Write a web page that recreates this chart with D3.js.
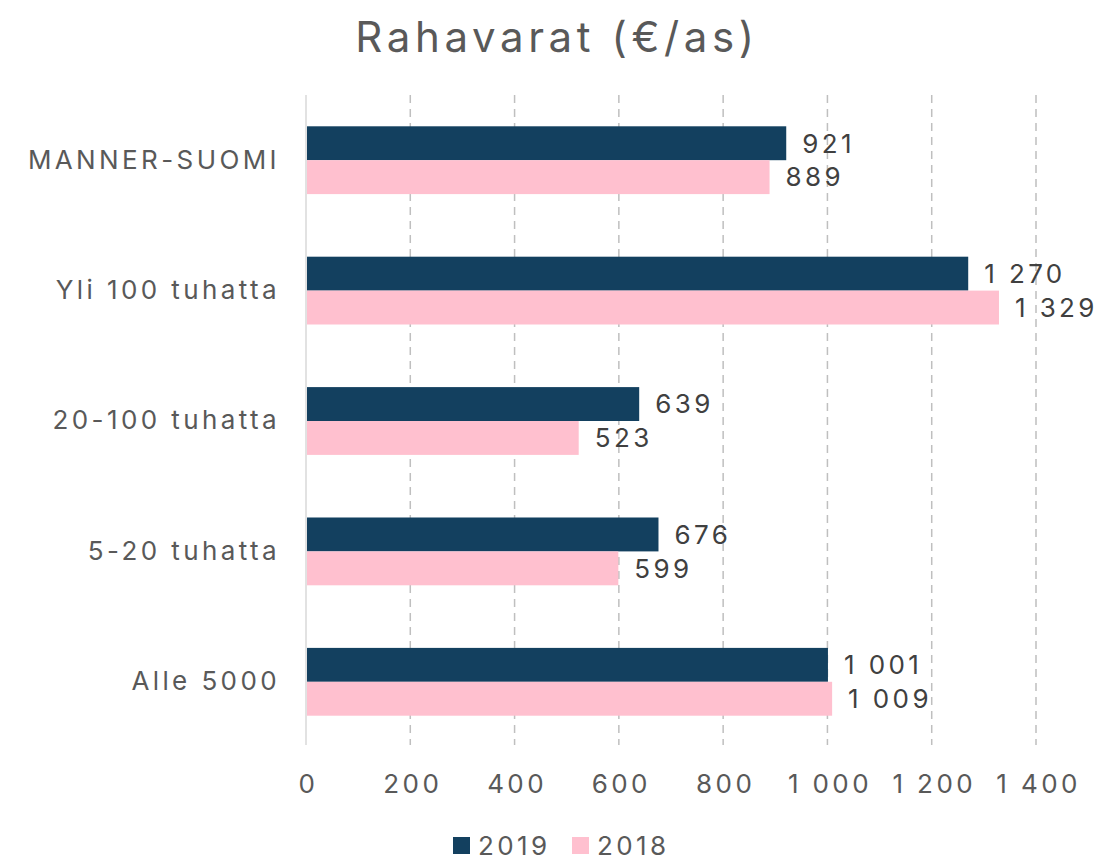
<!DOCTYPE html>
<html>
<head>
<meta charset="utf-8">
<script src="https://cdn.jsdelivr.net/npm/d3@7"></script>
<style>
  body { margin: 0; background: #fff; }
  text { font-family: Inter, "Open Sans", sans-serif; letter-spacing: 3.4px; }
</style>
</head>
<body>
<svg id="chart"></svg>
<script>
const categories = ["MANNER-SUOMI", "Yli 100 tuhatta", "20-100 tuhatta", "5-20 tuhatta", "Alle 5000"],
series = ["2019", "2018"],
values2019 = [921, 1270, 639, 676, 1001],
values2018 = [889, 1329, 523, 599, 1009],
xTicks = [0, 200, 400, 600, 800, 1000, 1200, 1400],
colors = ["#13405f", "#ffc0cf"],
w = 1099,
h = 861;

const svg = d3.select("#chart")
  .attr("width", w)
  .attr("height", h)

const fmt = v => d3.format(",")(v).replace(/,/g, "\u00a0")

const x = d3.scaleLinear().domain([0, 1400]).range([306, 1036])
const y = d3.scaleBand().domain(categories).range([95, 747]).paddingInner(0.48).paddingOuter(0.24)
const ySub = d3.scaleBand().domain(series).range([0, y.bandwidth()])

// title
svg.append("text")
  .attr("x", 557).attr("y", 52)
  .attr("text-anchor", "middle")
  .style("font-size", "42px")
  .style("letter-spacing", "4.6px")
  .style("fill", "#595959")
  .text("Rahavarat (€/as)")

// grid
svg.selectAll(".grid")
  .data(xTicks.slice(1))
  .enter()
  .append("line")
    .attr("x1", d => x(d)).attr("x2", d => x(d))
    .attr("y1", 95).attr("y2", 745)
    .style("stroke", "#bfbfbf")
    .style("stroke-width", 1.5)
    .style("stroke-dasharray", "8,6")

// x axis labels
const xAxis = d3.axisBottom(x).tickValues(xTicks).tickFormat(fmt).tickSize(0).tickPadding(0)
const gx = svg.append("g").attr("transform", "translate(2,775)").call(xAxis)
gx.select(".domain").remove()
gx.selectAll("text")
  .style("font-size", "26px")
  .style("fill", "#595959")
  .style("font-family", "Inter, 'Open Sans', sans-serif")

// y axis line
svg.append("line")
  .attr("x1", 306).attr("x2", 306)
  .attr("y1", 95).attr("y2", 745)
  .style("stroke", "#d9d9d9")
  .style("stroke-width", 1.5)

// category labels
const yAxis = d3.axisLeft(y).tickSize(0).tickPadding(26)
const gy = svg.append("g").attr("transform", "translate(306,0)").call(yAxis)
gy.select(".domain").remove()
gy.selectAll("text")
  .style("font-size", "26px")
  .style("fill", "#595959")
  .style("font-family", "Inter, 'Open Sans', sans-serif")

// bars
const rows = categories.map((c, i) => ({cat: c, vals: [
  {s: "2019", v: values2019[i]},
  {s: "2018", v: values2018[i]}
]}))

const groups = svg.selectAll(".grp")
  .data(rows)
  .enter()
  .append("g")
    .attr("transform", d => `translate(0,${y(d.cat)})`)

groups.selectAll("rect")
  .data(d => d.vals)
  .enter()
  .append("rect")
    .attr("x", x(0) + 1)
    .attr("y", d => ySub(d.s))
    .attr("width", d => x(d.v) - x(0) - 1)
    .attr("height", ySub.bandwidth())
    .style("fill", (d, i) => colors[i])

groups.selectAll(".lbl")
  .data(d => d.vals)
  .enter()
  .append("text")
    .attr("x", d => x(d.v) + 16)
    .attr("y", d => ySub(d.s) + ySub.bandwidth() / 2)
    .attr("dy", "0.36em")
    .style("font-size", "26px")
    .style("fill", "#404040")
    .text(d => fmt(d.v))

// legend
const leg = svg.append("g").attr("transform", "translate(453,837)")
series.forEach((s, i) => {
  const g = leg.append("g").attr("transform", `translate(${i * 119},0)`)
  g.append("rect").attr("width", 17).attr("height", 17).style("fill", colors[i])
  g.append("text")
    .attr("x", 25).attr("y", 9).attr("dy", "0.36em")
    .style("font-size", "26px")
    .style("fill", "#595959")
    .text(s)
})
</script>
</body>
</html>
